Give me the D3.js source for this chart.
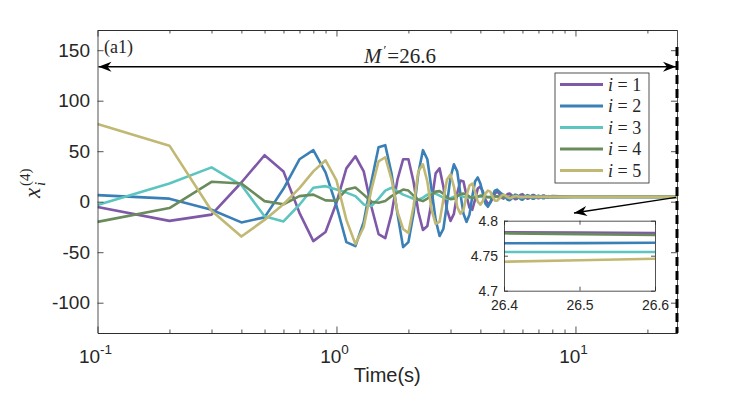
<!DOCTYPE html>
<html>
<head>
<meta charset="utf-8">
<script src="https://cdn.jsdelivr.net/npm/d3@7"></script>
<style>
  body { margin: 0; background: #fff; }
  text { fill: #262626; }
</style>
</head>
<body>
<div id="chart"></div>
<script>
// sample times (s) -- dense while oscillating, then the tail
var times = [
  0.1, 0.2, 0.3, 0.4, 0.5, 0.6, 0.7, 0.8, 0.9, 1.0,
  1.1, 1.2, 1.3, 1.4, 1.5, 1.6, 1.7, 1.8, 1.9, 2.0,
  2.1, 2.2, 2.3, 2.4, 2.5, 2.6, 2.7, 2.8, 2.9, 3.0,
  3.1, 3.2, 3.3, 3.4, 3.5, 3.6, 3.7, 3.8, 3.9, 4.0,
  4.1, 4.2, 4.3, 4.4, 4.5, 4.6, 4.7, 4.8, 4.9, 5.0,
  5.1, 5.2, 5.3, 5.4, 5.5, 5.6, 5.7, 5.8, 5.9, 6.0,
  6.1, 6.2, 6.3, 6.4, 6.5, 6.6, 6.7, 6.8, 6.9, 7.0,
  7.1, 7.2, 7.3, 7.4, 7.5, 7.6, 7.7, 7.8, 7.9, 8.0,
  10, 26.4, 26.5, 26.6
];

var x1 = [
  -5.3, -19, -12.8, 19, 46, 30, -11, -39, -30, -1,
  33, 45, 30, -5, -32, -36, -12, 22, 42, 42,
  20, -10, -28, -24, 0, 28, 33, 15, -8, -19,
  -12, 8, 21, 20, 6, -6, -8, 2, 13, 15,
  10, 2, -2, -1, 3, 8, 10, 8, 4, 3,
  5, 7.5, 8, 6.5, 4, 2.5, 3, 5, 7, 7.5,
  6, 4, 3, 3.5, 5, 6.5, 6.5, 5.5, 4, 3.5,
  4, 5, 6, 6, 5.2, 4.3, 4, 4.5, 5.3, 5.5,
  4.9, 4.7834, 4.7829, 4.7824
];
var x2 = [
  6.5, 3, -8, -20.5, -15.5, 12.8, 42, 51, 29, -4,
  -40, -44, -20, 20, 54, 56, 28, -12, -45, -40,
  -12, 28, 51, 42, 12, -18, -34, -27, -2, 24,
  37, 30, 8, -12, -20, -13, 5, 20, 24, 18,
  8, -2, -5, -1, 6, 11, 12, 10, 8, 6.5,
  4.5, 2, 1.5, 3, 5.5, 7, 6.5, 4.5, 2.5, 2,
  3.5, 5.5, 6.5, 6, 4.5, 3, 3, 4, 5.5, 6,
  5.5, 4.5, 3.5, 3.5, 4.3, 5.2, 5.5, 5, 4.3, 4.1,
  4.7, 4.7677, 4.768, 4.7686
];
var x3 = [
  -3.3, 18, 34, 16.5, -14.5, -19.5, -3, 13.8, 15.4, 12,
  9, 5.5, -2.7, -4.3, 3, 11, 13.8, 10.5, 7, 5,
  3, 2, 4, 7, 8.5, 8, 6, 4, 3, 3.5,
  5, 6, 6, 5, 4.2, 4, 4.4, 5, 5.2, 5,
  4.6, 4.5, 4.7, 4.9, 4.9, 4.8, 4.7, 4.7, 4.75, 4.8,
  4.8, 4.75, 4.7, 4.72, 4.76, 4.78, 4.77, 4.75, 4.74, 4.75,
  4.76, 4.76, 4.76, 4.76, 4.76, 4.76, 4.76, 4.76, 4.76, 4.76,
  4.755, 4.755, 4.755, 4.755, 4.755, 4.755, 4.755, 4.755, 4.755, 4.755,
  4.755, 4.7553, 4.7553, 4.7553
];
var x4 = [
  -20, -6.3, 19.7, 18, 0.6, -2.5, 5.5, 7, 1.3, 1,
  12, 14, 7, 0, -1, 0.6, 5.5, 9, 12, 11,
  6, 2, 0.6, 3, 7, 10, 10.5, 8, 4, 2.5,
  3, 5.5, 7.5, 8, 7, 5, 3.8, 4, 5, 6,
  6, 5.2, 4.4, 4.3, 4.7, 5.2, 5.3, 5, 4.7, 4.7,
  4.8, 4.9, 4.85, 4.75, 4.7, 4.72, 4.8, 4.83, 4.8, 4.77,
  4.78, 4.78, 4.78, 4.78, 4.78, 4.78, 4.78, 4.78, 4.78, 4.78,
  4.782, 4.782, 4.782, 4.782, 4.782, 4.782, 4.782, 4.782, 4.782, 4.782,
  4.782, 4.782, 4.7808, 4.7796
];
var x5 = [
  77, 55.5, -9, -34.5, -18, -2.5, 13.5, 30, 41, 21,
  -18, -42, -25, 12, 40, 44, 22, -10, -27, -31,
  -5, 30, 37, 20, -8, -22, -20, 2, 22, 27,
  15, -5, -12, -8, 6, 16, 18, 10, 0, -3,
  1, 8, 11, 10, 5, 1, 1, 3, 6, 7,
  6, 4.5, 3.5, 4, 5, 5.5, 5.5, 5, 4.5, 4.4,
  4.6, 4.9, 5, 4.9, 4.7, 4.6, 4.6, 4.7, 4.75, 4.75,
  4.74, 4.74, 4.74, 4.74, 4.74, 4.74, 4.74, 4.74, 4.74, 4.74,
  4.742, 4.7414, 4.7436, 4.7457
];

var labels = ["1", "2", "3", "4", "5"];
var colors = ["#7f58a8", "#3a80b6", "#5cc5c0", "#6a8b5c", "#c0b873"];
var yTicks = [-100, -50, 0, 50, 100, 150];
var xMajor = [0.1, 1, 10];
var xMinor = [0.2, 0.3, 0.4, 0.5, 0.6, 0.7, 0.8, 0.9, 2, 3, 4, 5, 6, 7, 8, 9, 20];
var insetXTicks = [26.4, 26.5, 26.6];
var insetYTicks = [4.7, 4.75, 4.8];
var Mprime = 26.6;

var series = [x1, x2, x3, x4, x5].map(function (vals, i) {
  return { name: labels[i], color: colors[i],
    values: vals.map(function (v, j) { return { t: times[j], v: v }; }) };
});

var W = 747, H = 393;
var margin = {top: 30, right: 70, bottom: 60, left: 97.5};
var serif = "'Liberation Serif', 'Times New Roman', serif";

var svg = d3.select("#chart").append("svg")
  .attr("width", W).attr("height", H)
  .style("font-family", "'Liberation Sans', Arial, sans-serif");

svg.append("rect").attr("width", W).attr("height", H).attr("fill", "#fff");

var x = d3.scaleLog().domain([0.1, Mprime]).range([margin.left, 677]);
var y = d3.scaleLinear().domain([-130, 170]).range([333, margin.top]);

var defs = svg.append("defs");
defs.append("clipPath").attr("id", "clipMain")
  .append("rect").attr("x", x.range()[0]).attr("y", y.range()[1])
  .attr("width", x.range()[1] - x.range()[0]).attr("height", y.range()[0] - y.range()[1]);

// arrow head, matlab "vback" look
defs.append("marker")
  .attr("id", "head")
  .attr("viewBox", "-14 -6 16 12")
  .attr("refX", 0).attr("refY", 0)
  .attr("markerWidth", 16).attr("markerHeight", 12)
  .attr("markerUnits", "userSpaceOnUse")
  .attr("orient", "auto-start-reverse")
  .append("path")
  .attr("d", "M0,0 L-13,-5 L-9,0 L-13,5 Z")
  .attr("fill", "#000");

var line = d3.line()
  .x(function (d) { return x(d.t); })
  .y(function (d) { return y(d.v); });

svg.append("g").attr("clip-path", "url(#clipMain)")
  .selectAll(".series")
  .data(series)
  .enter().append("path")
  .attr("class", "series")
  .attr("d", function (d) { return line(d.values); })
  .attr("fill", "none")
  .attr("stroke", function (d) { return d.color; })
  .attr("stroke-width", 2.6)
  .attr("stroke-linejoin", "round");

// axes, ticks inward like matlab
function styleAxis(g) {
  g.selectAll("path, line").attr("stroke", "#262626").attr("stroke-width", 0.8);
  g.selectAll("text").attr("fill", "#262626");
}

var y0 = y.range()[0], y1 = y.range()[1];
var xl = x.range()[0], xr = x.range()[1];

svg.append("g").attr("transform", "translate(0," + y0 + ")")
  .call(d3.axisBottom(x).tickValues(xMajor).tickSize(-6.5).tickSizeOuter(0).tickFormat(""))
  .call(styleAxis);
svg.append("g").attr("transform", "translate(0," + y0 + ")")
  .call(d3.axisBottom(x).tickValues(xMinor).tickSize(-3.5).tickSizeOuter(0).tickFormat(""))
  .call(styleAxis);
svg.append("g").attr("transform", "translate(0," + y1 + ")")
  .call(d3.axisTop(x).tickValues(xMajor).tickSize(-6.5).tickSizeOuter(0).tickFormat(""))
  .call(styleAxis);
svg.append("g").attr("transform", "translate(0," + y1 + ")")
  .call(d3.axisTop(x).tickValues(xMinor).tickSize(-3.5).tickSizeOuter(0).tickFormat(""))
  .call(styleAxis);

svg.append("g").attr("transform", "translate(" + xl + ",0)")
  .call(d3.axisLeft(y).tickValues(yTicks).tickSize(-6).tickSizeOuter(0).tickPadding(7.5))
  .call(styleAxis)
  .selectAll("text").style("font-size", "19px")
  .text(function (d) { return d < 0 ? "-" + Math.abs(d) : d; });
svg.append("g").attr("transform", "translate(" + xr + ",0)")
  .call(d3.axisRight(y).tickValues(yTicks).tickSize(-6).tickSizeOuter(0).tickFormat(""))
  .call(styleAxis);

// log labels 10^k
var xLab = svg.append("g").selectAll(".xlab")
  .data(xMajor).enter().append("text")
  .attr("class", "xlab")
  .attr("x", function (d) { return x(d) - 2; })
  .attr("y", 363)
  .attr("text-anchor", "middle")
  .style("font-size", "19px");
xLab.append("tspan").text("10");
xLab.append("tspan").attr("dy", -9).style("font-size", "13.5px")
  .text(function (d) { return String(Math.round(Math.log10(d))); });

svg.append("text")
  .attr("x", (xl + xr) / 2)
  .attr("y", 382)
  .attr("text-anchor", "middle")
  .style("font-size", "20px")
  .text("Time(s)");

// y label  x_i^(4)
var yl = svg.append("g").attr("transform", "translate(40,198) rotate(-90)")
  .style("font-family", serif);
yl.append("text").attr("x", 0).attr("y", 0).style("font-style", "italic").style("font-size", "23px").text("x");
yl.append("text").attr("x", 12).attr("y", 5).style("font-style", "italic").style("font-size", "15px").text("i");
yl.append("text").attr("x", 12).attr("y", -10).style("font-size", "15px").text("(4)");

// M' span arrow and dashed line
svg.append("line")
  .attr("x1", xl + 1).attr("x2", x(Mprime) - 1)
  .attr("y1", 66.7).attr("y2", 66.7)
  .attr("stroke", "#000").attr("stroke-width", 1.4)
  .attr("marker-start", "url(#head)")
  .attr("marker-end", "url(#head)");

svg.append("line")
  .attr("x1", x(Mprime)).attr("x2", x(Mprime))
  .attr("y1", 47).attr("y2", y0)
  .attr("stroke", "#000").attr("stroke-width", 3)
  .attr("stroke-dasharray", "9,5");

var mt = svg.append("text")
  .attr("x", 364).attr("y", 63)
  .style("font-family", serif)
  .style("font-size", "21px");
mt.append("tspan").style("font-style", "italic").text("M");
mt.append("tspan").attr("dx", 2).attr("dy", -9).style("font-size", "13px").text("\u2032");
mt.append("tspan").attr("dx", 1).attr("dy", 9).text("=" + Mprime);

svg.append("text")
  .attr("x", 104).attr("y", 53)
  .style("font-family", serif)
  .style("font-size", "18px")
  .text("(a1)");

// legend
var lg = svg.append("g");
lg.append("rect")
  .attr("x", 555).attr("y", 73).attr("width", 94).attr("height", 110)
  .attr("fill", "#fff").attr("stroke", "#262626").attr("stroke-width", 0.8);
var li = lg.selectAll(".li").data(series).enter().append("g")
  .attr("class", "li")
  .attr("transform", function (d, i) { return "translate(0," + (84.5 + i * 21.5) + ")"; });
li.append("line").attr("x1", 560).attr("x2", 603)
  .attr("stroke", function (d) { return d.color; }).attr("stroke-width", 2.8);
var lt = li.append("text").attr("x", 608).attr("y", 6)
  .style("font-family", serif)
  .style("font-size", "18px");
lt.append("tspan").style("font-style", "italic").text("i");
lt.append("tspan").text(function (d) { return " = " + d.name; });

// inset zoom on the tail
var ix = d3.scaleLinear().domain([26.4, 26.6]).range([504, 655]);
var iy = d3.scaleLinear().domain([4.7, 4.8]).range([290.7, 220.7]);

svg.append("line")
  .attr("x1", x(Mprime) - 1).attr("y1", y(4.75) + 0.5)
  .attr("x2", 574).attr("y2", 213)
  .attr("stroke", "#000").attr("stroke-width", 1.4)
  .attr("marker-end", "url(#head)");

var inset = svg.append("g");
inset.append("rect")
  .attr("x", 504).attr("y", 220.7).attr("width", 151).attr("height", 70)
  .attr("fill", "#fff");

defs.append("clipPath").attr("id", "clipInset")
  .append("rect").attr("x", 504).attr("y", 220.7).attr("width", 151).attr("height", 70);

var iline = d3.line()
  .x(function (d) { return ix(d.t); })
  .y(function (d) { return iy(d.v); });

inset.append("g").attr("clip-path", "url(#clipInset)")
  .selectAll(".iseries").data(series).enter().append("path")
  .attr("class", "iseries")
  .attr("d", function (d) { return iline(d.values.filter(function (p) { return p.t >= 26.4; })); })
  .attr("fill", "none")
  .attr("stroke", function (d) { return d.color; })
  .attr("stroke-width", 2.6);

inset.append("g").attr("transform", "translate(0,290.7)")
  .call(d3.axisBottom(ix).tickValues(insetXTicks).tickSize(-4).tickSizeOuter(0).tickPadding(9)
    .tickFormat(d3.format(".1f")))
  .call(styleAxis)
  .selectAll("text").style("font-size", "14px");
inset.append("g").attr("transform", "translate(0,220.7)")
  .call(d3.axisTop(ix).tickValues(insetXTicks).tickSize(-4).tickSizeOuter(0).tickFormat(""))
  .call(styleAxis);
inset.append("g").attr("transform", "translate(504,0)")
  .call(d3.axisLeft(iy).tickValues(insetYTicks).tickSize(-4).tickSizeOuter(0).tickPadding(6)
    .tickFormat(function (d) { return d === 4.75 ? "4.75" : d3.format(".1f")(d); }))
  .call(styleAxis)
  .selectAll("text").style("font-size", "14px");
inset.append("g").attr("transform", "translate(655,0)")
  .call(d3.axisRight(iy).tickValues(insetYTicks).tickSize(-4).tickSizeOuter(0).tickFormat(""))
  .call(styleAxis);
</script>
</body>
</html>
